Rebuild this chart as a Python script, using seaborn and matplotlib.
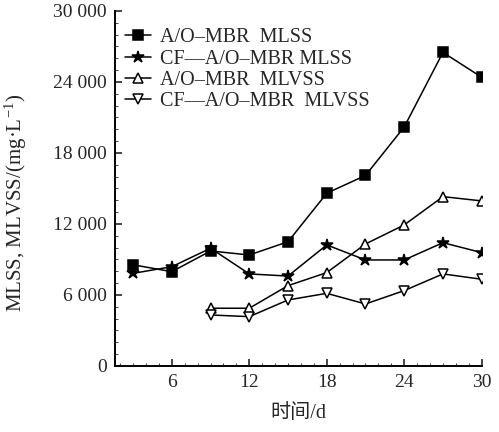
import numpy as np
import pandas as pd
import matplotlib
matplotlib.use("Agg")
import matplotlib.pyplot as plt
import seaborn as sns
from matplotlib.ticker import MultipleLocator, FuncFormatter

# Données
days_mlss = [3, 6, 9, 12, 15, 18, 21, 24, 27, 30]
days_mlvss = [9, 12, 15, 18, 21, 24, 27, 30]
ao_mlss = [8550, 7970, 9720, 9380, 10500, 14600, 16100, 20200, 26500, 24400]
cf_mlss = [7830, 8390, 9950, 7780, 7600, 10230, 8960, 8960, 10420, 9580]
ao_mlvss = [4880, 4880, 6790, 7890, 10310, 11920, 14310, 13950]
cf_mlvss = [4310, 4170, 5580, 6140, 5240, 6370, 7780, 7330]

labels = ["A/O\u2013MBR  MLSS", "CF\u2014A/O\u2013MBR MLSS",
          "A/O\u2013MBR  MLVSS", "CF\u2014A/O\u2013MBR  MLVSS"]

sns.set_style("ticks")
plt.rcParams["font.family"] = ["Liberation Serif", "Noto Sans CJK SC"]
plt.rcParams["mathtext.fontset"] = "stix"
plt.rcParams["xtick.direction"] = "in"
plt.rcParams["ytick.direction"] = "in"

fig = plt.figure(figsize=(4.99, 4.32), dpi=100)
ax = fig.add_axes([0.2305, 0.1528, 0.7348, 0.8218])

series = [
    (days_mlss, ao_mlss, "s", "black", 6.5),
    (days_mlss, cf_mlss, "*", "black", 9),
    (days_mlvss, ao_mlvss, "^", "white", 7.5),
    (days_mlvss, cf_mlvss, "v", "white", 7.5),
]
for (x, y, m, fc, ms), lab in zip(series, labels):
    sns.lineplot(x=x, y=y, ax=ax, color="black", lw=1.1, marker=m,
                 markersize=ms, mfc=fc, mec="black", mew=1.1, label=lab)

ax.set_xlim(1.6, 30)
ax.set_ylim(0, 30000)
ax.xaxis.set_major_locator(MultipleLocator(6))
ax.xaxis.set_minor_locator(MultipleLocator(1))
ax.yaxis.set_major_locator(MultipleLocator(6000))
ax.yaxis.set_minor_locator(MultipleLocator(1000))
ax.yaxis.set_major_formatter(FuncFormatter(
    lambda v, p: "0" if v == 0 else f"{int(v):,}".replace(",", " ")))
ax.tick_params(which="major", length=5, width=1.2, labelsize=14, pad=6)
ax.tick_params(which="minor", length=2, width=0.6)
sns.despine(ax=ax)
for s in ["left", "bottom"]:
    ax.spines[s].set_linewidth(1.4)
    ax.spines[s].set_color("black")

ax.set_xlabel("时间/d", fontsize=14.5, labelpad=9)
ax.set_ylabel("MLSS, MLVSS/(mg·L$^{\\mathregular{-1}}$)", fontsize=15)
ax.yaxis.set_label_coords(-0.235, 0.46)

ax.legend(loc="upper left", bbox_to_anchor=(-0.005, 0.985), frameon=False,
          fontsize=14.5, handlelength=1.3, handletextpad=0.4,
          labelspacing=0.1, borderaxespad=0.2)

fig.savefig("out.png", dpi=100)
